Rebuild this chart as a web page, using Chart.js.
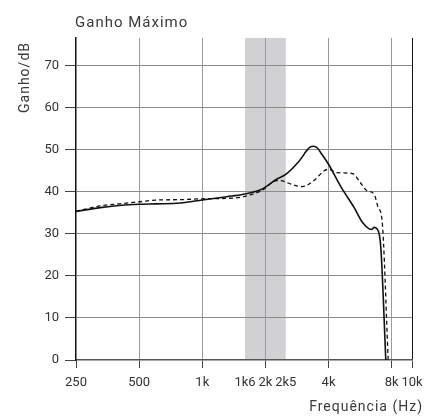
<!DOCTYPE html>
<html>
<head>
<meta charset="utf-8">
<script src="https://cdn.jsdelivr.net/npm/chart.js@4.4.1/dist/chart.umd.min.js"></script>
<style>
  html, body { margin: 0; padding: 0; background: #fff; }
  #wrap { width: 425px; height: 420px; }
</style>
</head>
<body>
<div id="wrap"><canvas id="myChart" width="425" height="420"></canvas></div>
<script>
// curva continua (ganho maximo, curva 1)
const solidFreq = [250, 326, 400, 500, 600, 784, 1000, 1310, 1570, 1910, 2270, 2500, 2900, 3250, 3400, 3550, 3700, 4000, 4600, 5300, 5800, 6400, 6600, 6800, 7100, 7500];
const solidGain = [35.3, 36.2, 36.7, 37.0, 37.1, 37.3, 38.0, 38.8, 39.4, 40.5, 43.0, 44.1, 47.3, 50.5, 50.8, 50.3, 49.0, 46.5, 41.0, 36.2, 32.7, 31.0, 31.5, 31.2, 26.8, 0];

// curva tracejada (curva 2)
const dashFreq = [250, 326, 400, 505, 600, 800, 1000, 1310, 1570, 1910, 2270, 2350, 2720, 3000, 3400, 3800, 4000, 4400, 5200, 5700, 6100, 6600, 6900, 7200, 7700];
const dashGain = [35.3, 36.6, 37.1, 37.6, 38.0, 38.1, 38.3, 38.4, 38.8, 40.2, 42.6, 42.6, 41.6, 41.2, 42.6, 44.9, 45.3, 44.5, 44.3, 42.0, 40.2, 39.4, 36.2, 33.1, 0];

// eixos
const xTicks = [250, 500, 1000, 1600, 2000, 2500, 4000, 8000, 10000];
const xLabels = ['250', '500', '1k', '1k6', '2k', '2k5', '4k', '8k', '10k'];
const yTicks = [0, 10, 20, 30, 40, 50, 60, 70];
const yMax = 76.5;

// faixa cinza (1k6 a 2k5)
const bandFrom = 1600;
const bandTo = 2500;

const tickFont = { family: "'Roboto', sans-serif", size: 13 };
const textFont = "15px 'Roboto', 'Liberation Sans', sans-serif";

function toPoints(xs, ys) {
  return xs.map((x, i) => ({ x: x, y: ys[i] }))
}

// desenha a faixa antes da grade
const bandPlugin = {
  id: 'band',
  beforeDraw(chart) {
    const { ctx, chartArea, scales } = chart;
    const x1 = scales.x.getPixelForValue(bandFrom);
    const x2 = scales.x.getPixelForValue(bandTo);
    ctx.save();
    ctx.fillStyle = '#d1d1d3';
    ctx.fillRect(x1, chartArea.top, x2 - x1, chartArea.bottom - chartArea.top);
    ctx.restore();
  }
}

// titulos posicionados a mao
const textPlugin = {
  id: 'texts',
  afterDraw(chart) {
    const { ctx, chartArea } = chart;
    ctx.save();
    ctx.fillStyle = '#3a3a3a';
    ctx.font = textFont;
    ctx.letterSpacing = '1px';
    ctx.textBaseline = 'alphabetic';
    ctx.textAlign = 'left';
    ctx.fillText('Ganho Máximo', chartArea.left - 1, 27);

    ctx.font = "14px 'Roboto', 'Liberation Sans', sans-serif";
    ctx.textAlign = 'right';
    ctx.fillText('Frequência (Hz)', 423, 411);

    ctx.translate(29, chartArea.top + 4);
    ctx.rotate(-Math.PI / 2);
    ctx.textAlign = 'right';
    ctx.fillText('Ganho/dB', 0, 0);
    ctx.restore();
  }
}

const ctx = document.getElementById('myChart').getContext('2d');
const myChart = new Chart(ctx, {
  type: 'line',
  data: {
    datasets: [
      {
        label: 'curva 1',
        data: toPoints(solidFreq, solidGain),
        borderColor: '#111',
        borderWidth: 1.6,
        pointRadius: 0,
        cubicInterpolationMode: 'monotone',
        fill: false,
      },
      {
        label: 'curva 2',
        data: toPoints(dashFreq, dashGain),
        borderColor: '#111',
        borderWidth: 1.3,
        borderDash: [4, 3],
        pointRadius: 0,
        cubicInterpolationMode: 'monotone',
        fill: false,
      },
    ],
  },
  options: {
    responsive: false,
    animation: false,
    layout: { padding: { top: 38, right: 13, left: 0, bottom: 0 } },
    plugins: {
      legend: { display: false },
      tooltip: { enabled: false },
      title: { display: false },
    },
    scales: {
      x: {
        type: 'logarithmic',
        min: 250,
        max: 10000,
        afterBuildTicks: (scale) => { scale.ticks = xTicks.map((v) => ({ value: v })) },
        afterFit: (scale) => {
          scale.height = 60;
          scale.paddingLeft = 0;
          scale.paddingRight = 0;
        },
        ticks: {
          autoSkip: false,
          maxRotation: 0,
          padding: 7,
          color: '#333',
          font: tickFont,
          callback: (value, index) => xLabels[index],
        },
        grid: {
          lineWidth: 1,
          tickLength: 8,
          color: (c) => {
            const v = c.tick && c.tick.value;
            if (v === 1600 || v === 2500 || v === 250) return 'rgba(0,0,0,0)';
            if (v === 10000) return '#111';
            return '#9a9a9a';
          },
          tickColor: (c) => {
            const v = c.tick && c.tick.value;
            if (v === 1600 || v === 2500) return 'rgba(0,0,0,0)';
            return '#444';
          },
        },
        border: { color: '#555', width: 1.6 },
      },
      y: {
        min: 0,
        max: yMax,
        afterBuildTicks: (scale) => { scale.ticks = yTicks.map((v) => ({ value: v })) },
        afterFit: (scale) => { scale.width = 76 },
        ticks: {
          padding: 6,
          color: '#333',
          font: tickFont,
        },
        grid: {
          lineWidth: 1,
          tickLength: 11,
          color: (c) => (c.tick && c.tick.value === 0) ? 'rgba(0,0,0,0)' : '#8a8a8a',
          tickColor: '#444',
        },
        border: { color: '#111', width: 1.5 },
      },
    },
  },
  plugins: [bandPlugin, textPlugin],
})
</script>
</body>
</html>
